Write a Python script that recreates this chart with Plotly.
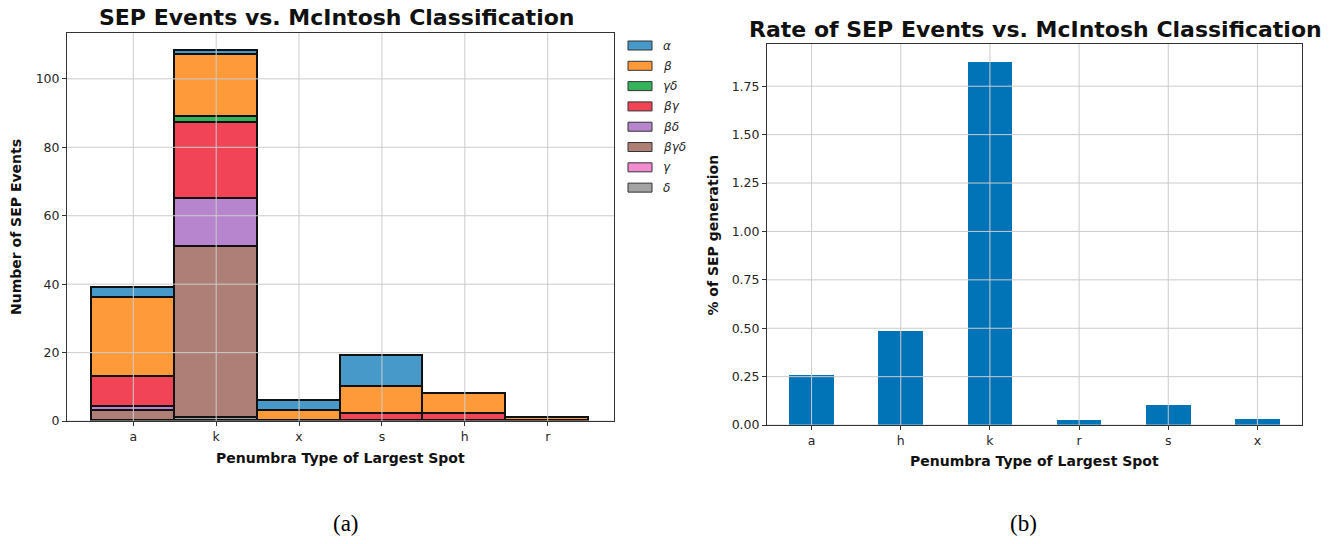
import plotly.graph_objects as go

# ---------------- data ----------------
penumbra_hist = ["a", "k", "x", "s", "h", "r"]
classes = ["α", "β", "γδ", "βγ", "βδ", "βγδ", "γ", "δ"]
class_colors = ["#4699c9", "#ff9a3b", "#35b35a", "#f14557", "#b685cd", "#ae7f77", "#f28bd0", "#a3a3a3"]
counts_alpha = [3, 1, 3, 9, 0, 0]
counts_beta = [23, 18, 3, 8, 6, 1]
counts_gammadelta = [0, 2, 0, 0, 0, 0]
counts_betagamma = [9, 22, 0, 2, 2, 0]
counts_betadelta = [1, 14, 0, 0, 0, 0]
counts_betagammadelta = [3, 50, 0, 0, 0, 0]
counts_gamma = [0, 0, 0, 0, 0, 0]
counts_delta = [0, 1, 0, 0, 0, 0]
counts = [counts_alpha, counts_beta, counts_gammadelta, counts_betagamma,
          counts_betadelta, counts_betagammadelta, counts_gamma, counts_delta]

penumbra_rate = ["a", "h", "k", "r", "s", "x"]
sep_rate = [0.256, 0.486, 1.874, 0.026, 0.102, 0.031]

left_yticks = [0, 20, 40, 60, 80, 100]
right_yticks = [0, 0.25, 0.5, 0.75, 1.0, 1.25, 1.5, 1.75]
right_yticklabels = ["0.00", "0.25", "0.50", "0.75", "1.00", "1.25", "1.50", "1.75"]

# ---------------- geometry ----------------
W, H = 1333, 544
KY = 1.0132  # vertical correction for positions
def px(x):
    return x / W
def py(y):
    return 1 - (y * KY) / H

L_x0, L_x1, L_y0, L_y1 = 67, 614, 33, 421
R_x0, R_x1, R_y0, R_y1 = 767, 1302, 44, 425

TICKFONT = dict(family="DejaVu Sans", size=12.5, color="#262626")
GRID = "#cccccc"

fig = go.Figure()

# stacked histogram: bottom first (δ ... α)
for name, color, vals in reversed(list(zip(classes, class_colors, counts))):
    fig.add_trace(go.Bar(
        x=penumbra_hist, y=vals, name=name, xaxis="x", yaxis="y",
        marker=dict(color=color, line=dict(color="#111111", width=1.9)),
        showlegend=False,
    ))

fig.add_trace(go.Bar(
    x=penumbra_rate, y=sep_rate, xaxis="x2", yaxis="y2", width=0.5,
    marker=dict(color="#0173b7", line=dict(width=0)), showlegend=False,
))

axis_common = dict(showline=True, linecolor="#333333", linewidth=1, mirror=True,
                   ticks="outside", ticklen=4, tickcolor="#333333", tickwidth=1,
                   showgrid=False, zeroline=False, tickfont=TICKFONT)

fig.update_layout(
    width=W, height=H, margin=dict(l=0, r=0, t=0, b=0),
    paper_bgcolor="white", plot_bgcolor="white",
    barmode="stack", bargap=0,
    xaxis=dict(domain=[px(L_x0), px(L_x1)], anchor="y", type="category",
               categoryorder="array", categoryarray=penumbra_hist,
               range=[-0.8, 5.8], **axis_common),
    yaxis=dict(domain=[py(L_y1), py(L_y0)], anchor="x", range=[0, 113.4],
               tickvals=left_yticks, **axis_common),
    xaxis2=dict(domain=[px(R_x0), px(R_x1)], anchor="y2", type="category",
                categoryorder="array", categoryarray=penumbra_rate,
                range=[-0.5, 5.5], **axis_common),
    yaxis2=dict(domain=[py(R_y1), py(R_y0)], anchor="x2", range=[0, 1.968],
                tickvals=right_yticks, ticktext=right_yticklabels, **axis_common),
)

shapes = []
# grid lines drawn above bars (as matplotlib does)
for i in range(len(penumbra_hist)):
    shapes.append(dict(type="line", xref="x", yref="y domain", x0=i, x1=i, y0=0, y1=1,
                       line=dict(color=GRID, width=1), layer="above"))
for v in left_yticks:
    shapes.append(dict(type="line", xref="x domain", yref="y", x0=0, x1=1, y0=v, y1=v,
                       line=dict(color=GRID, width=1), layer="above"))
for i in range(len(penumbra_rate)):
    shapes.append(dict(type="line", xref="x2", yref="y2 domain", x0=i, x1=i, y0=0, y1=1,
                       line=dict(color=GRID, width=1), layer="above"))
for v in right_yticks:
    shapes.append(dict(type="line", xref="x2 domain", yref="y2", x0=0, x1=1, y0=v, y1=v,
                       line=dict(color=GRID, width=1), layer="above"))

annotations = []
# manual legend
for i, (name, color) in enumerate(zip(classes, class_colors)):
    yc = 45.5 + i * 20.3
    shapes.append(dict(type="rect", xref="paper", yref="paper",
                       x0=px(628), x1=px(652), y0=py(yc + 4.5), y1=py(yc - 4.5),
                       fillcolor=color, line=dict(color="#333333", width=1)))
    annotations.append(dict(text="<i>" + name + "</i>", xref="paper", yref="paper",
                            x=px(661), y=py(yc), xanchor="left", yanchor="middle",
                            showarrow=False,
                            font=dict(family="DejaVu Sans", size=12, color="#262626")))

def label(text, x, y, size, angle=0, bold=True, family="DejaVu Sans", color="#111111"):
    annotations.append(dict(text=("<b>" + text + "</b>") if bold else text,
                            xref="paper", yref="paper", x=px(x), y=py(y),
                            xanchor="center", yanchor="middle", showarrow=False,
                            textangle=angle, font=dict(family=family, size=size, color=color)))

label("SEP Events vs. McIntosh Classification", 337, 17, 22)
label("Rate of SEP Events vs. McIntosh Classification", 1035, 29, 22)
label("Number of SEP Events", 16, (L_y0 + L_y1) / 2, 14, angle=-90)
label("% of SEP generation", 713, (R_y0 + R_y1) / 2, 14, angle=-90)
label("Penumbra Type of Largest Spot", (L_x0 + L_x1) / 2, 458, 14)
label("Penumbra Type of Largest Spot", (R_x0 + R_x1) / 2, 461, 14)
label("(a)", 346, 523, 23, bold=False, family="Liberation Serif", color="#000000")
label("(b)", 1023, 523, 23, bold=False, family="Liberation Serif", color="#000000")

fig.update_layout(shapes=shapes, annotations=annotations)

post = ("document.documentElement.style.margin='0';document.body.style.margin='0';"
        "document.documentElement.style.overflow='hidden';document.body.style.overflow='hidden';")

fig.write_html("out.html", post_script=post, config={"displayModeBar": False})
